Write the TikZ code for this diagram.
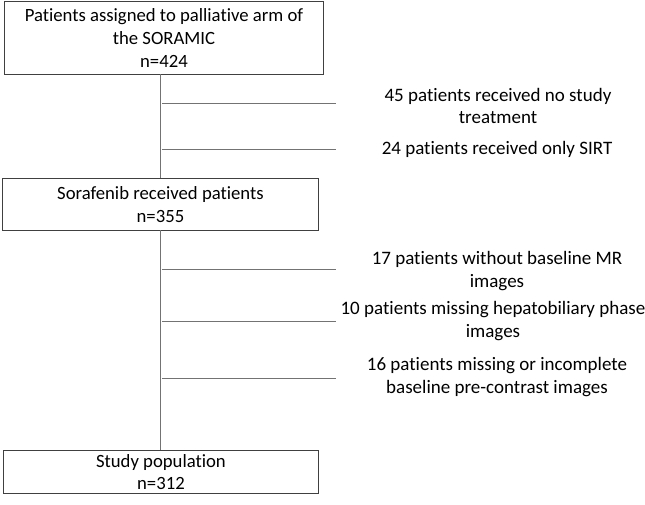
\documentclass[tikz,border=0pt]{standalone}
\usepackage{fontspec}
\setmainfont{Carlito}[RawFeature=-liga]
\begin{document}
\begin{tikzpicture}[x=1pt,y=-1pt,
  box/.style={draw=black!75,line width=0.9pt,inner sep=0pt,align=center,font=\fontsize{18.7}{22.7}\selectfont,anchor=north west},
  note/.style={align=center,font=\fontsize{19}{22.7}\selectfont,inner sep=0pt},
  trunk/.style={draw=black!55,line width=0.9pt},
  branch/.style={draw=black!55,line width=0.8pt}]
\useasboundingbox (0,0) rectangle (645,504);
\node[box,minimum width=319pt,minimum height=73pt] (b1) at (4,1) {Patients assigned to palliative arm of\\the SORAMIC\\n=424};
\node[box,minimum width=316pt,minimum height=52pt] (b2) at (2,178) {Sorafenib received patients\\n=355};
\node[box,minimum width=315pt,minimum height=43pt] (b3) at (3,450) {Study population\\n=312};
\coordinate (t1) at (160,74);
\coordinate (t2) at (160,178);
\coordinate (t3) at (160,230);
\coordinate (t4) at (160,450);
\draw[trunk] (t1) -- (t2);
\draw[trunk] (t3) -- (t4);
% branches
\coordinate (s1) at (162,103); \coordinate (e1) at (336,103);
\coordinate (s2) at (162,149); \coordinate (e2) at (336,149);
\coordinate (s3) at (162,269); \coordinate (e3) at (336,269);
\coordinate (s4) at (162,321); \coordinate (e4) at (336,321);
\coordinate (s5) at (162,378); \coordinate (e5) at (336,378);
\draw[branch] (s1) -- (e1);
\draw[branch] (s2) -- (e2);
\draw[branch] (s3) -- (e3);
\draw[branch] (s4) -- (e4);
\draw[branch] (s5) -- (e5);
\node[note] (n1) at (498,106) {45 patients received no study\\treatment};
\node[note] (n2) at (497,149) {24 patients received only SIRT};
\node[note] (n3) at (497,271) {17 patients without baseline MR\\images};
\node[note] (n4) at (493,321) {10 patients missing hepatobiliary phase\\images};
\node[note] (n5) at (497,377) {16 patients missing or incomplete\\baseline pre-contrast images};
\end{tikzpicture}
\end{document}
